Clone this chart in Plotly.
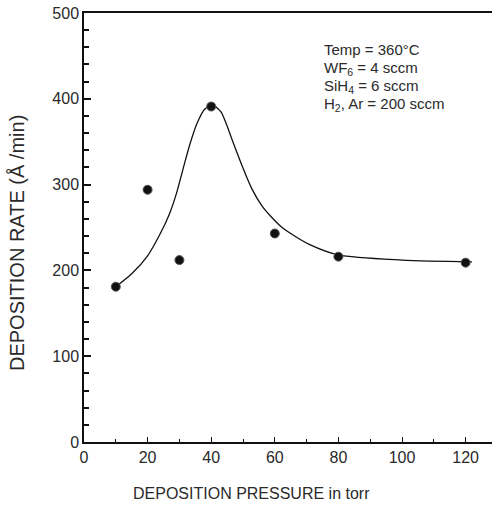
import plotly.graph_objects as go

# measured data points
pressure = [10, 20, 30, 40, 60, 80, 120]
rate = [181, 294, 212, 391, 243, 216, 209]

# fitted curve
curve_x = [10, 15, 20, 24, 27, 29.1, 31.2, 33.3, 35.4, 38, 40.5, 43, 44.4, 46.5, 49.7, 52.8, 56, 59, 62, 65, 71, 80, 100, 122]
curve_y = [181, 196, 217, 243, 267, 290, 319, 347, 370, 388, 392, 385, 374, 353, 322, 295, 275, 262, 251, 243, 230, 218, 212, 210]

x_ticks = [0, 20, 40, 60, 80, 100, 120]
y_ticks = [0, 100, 200, 300, 400, 500]

conditions = ["Temp = 360°C", "WF<sub>6</sub> = 4 sccm", "SiH<sub>4</sub> = 6 sccm", "H<sub>2</sub>, Ar = 200 sccm"]
x_title = "DEPOSITION PRESSURE in torr"
y_title = "DEPOSITION RATE (Å /min)"

font = "Liberation Sans, Arial, sans-serif"
tc = "#2a2a2a"

fig = go.Figure()
fig.add_trace(go.Scatter(x=curve_x, y=curve_y, mode="lines",
                         line=dict(color="#111", width=1.3, shape="spline", smoothing=0.8),
                         hoverinfo="skip", showlegend=False))
fig.add_trace(go.Scatter(x=pressure, y=rate, mode="markers",
                         marker=dict(color="#111", size=9, line=dict(color="#555", width=1)),
                         showlegend=False))

fig.update_xaxes(range=[0, 128.3], tickvals=x_ticks, ticktext=[str(v) for v in x_ticks],
                 showline=True, linecolor="#111", linewidth=1.5, mirror=True,
                 ticks="inside", ticklen=5, tickcolor="#111", tickwidth=1,
                 minor=dict(dtick=10, tick0=0, ticks="inside", ticklen=3, tickcolor="#111"),
                 showgrid=False, zeroline=False,
                 tickfont=dict(family=font, size=16, color=tc))
fig.update_yaxes(range=[0, 500], tickvals=y_ticks, ticktext=[str(v) for v in y_ticks],
                 showline=True, linecolor="#111", linewidth=1.5,
                 ticks="inside", ticklen=7, tickcolor="#111", tickwidth=1.5,
                 minor=dict(dtick=20, tick0=0, ticks="inside", ticklen=5, tickcolor="#111"),
                 showgrid=False, zeroline=False,
                 tickfont=dict(family=font, size=16, color=tc))

# axis titles placed as in the reference
fig.add_annotation(x=(251 - 84) / 408, y=-(493 - 442) / 429, xref="paper", yref="paper",
                   text=x_title, showarrow=False, xanchor="center", yanchor="middle",
                   font=dict(family=font, size=16, color=tc))
fig.add_annotation(x=(17 - 84) / 408, y=1 - (243 - 13) / 429, xref="paper", yref="paper",
                   text=y_title, showarrow=False, textangle=-90, xanchor="center", yanchor="middle",
                   font=dict(family=font, size=20, color=tc))

ys_px = [50, 68, 86, 104]
for t, py in zip(conditions, ys_px):
    fig.add_annotation(x=(322 - 84) / 408, y=1 - (py - 13) / 429, xref="paper", yref="paper",
                       text=t, showarrow=False, xanchor="left", yanchor="middle",
                       font=dict(family=font, size=15, color=tc))

fig.update_layout(width=495, height=506, margin=dict(l=84, r=3, t=13, b=64),
                  plot_bgcolor="white", paper_bgcolor="white")

fig.write_html("out.html")
